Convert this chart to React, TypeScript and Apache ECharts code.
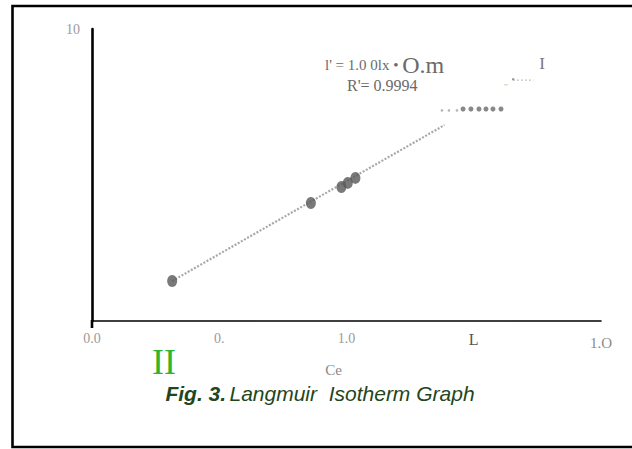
import React, { useEffect, useRef } from "react";
import * as echarts from "echarts";

const ceValues = [0.63, 1.72, 1.96, 2.01, 2.07];
const qeValues = [1.37, 4.04, 4.59, 4.73, 4.9];
const trendCe = [0.63, 2.77];
const trendQe = [1.37, 6.71];
const rowDarkCe = [2.916, 2.978, 3.041, 3.096, 3.151, 3.214];
const rowGrayCe = [2.75, 2.805, 2.868];
const rowQe = 7.26;
const tailCe = [3.31, 3.47];
const tailQe = 8.25;
const xTickLabels = ["0.0", "0.", "1.0", "L", "1.O"];
const yTickLabels: Record<number, string> = { 10: "10" };

const SERIF = "'Liberation Serif', 'DejaVu Serif', serif";
const SANS = "'Liberation Sans', Arial, sans-serif";

export default function App() {
  const ref = useRef<HTMLDivElement>(null);
  useEffect(() => {
    if (!ref.current) return;
    const chart = echarts.init(ref.current, null, { renderer: "svg" });
    chart.setOption({
      animation: false,
      backgroundColor: "#ffffff",
      grid: { left: 92, right: 31, top: 29, bottom: 128 },
      xAxis: {
        type: "value",
        min: 0,
        max: 4,
        interval: 1,
        name: "Ce",
        nameLocation: "middle",
        nameGap: 41,
        nameTextStyle: { fontFamily: SERIF, fontSize: 15, color: "#8a8a8a", padding: [0, 26, 0, 0] },
        axisLine: { lineStyle: { color: "#000", width: 1.6 } },
        axisTick: { show: false },
        splitLine: { show: false },
        axisLabel: {
          margin: 10,
          fontFamily: SERIF,
          fontSize: 14,
          color: "#9a9a9a",
          formatter: (v: number) => {
            const i = Math.round(v);
            if (i === 3) return "{d|" + xTickLabels[i] + "}";
            if (i === 4) return "{e|" + xTickLabels[i] + "}";
            return xTickLabels[i] ?? "";
          },
          rich: {
            d: { fontFamily: SERIF, fontSize: 16, color: "#555" },
            e: { fontFamily: SERIF, fontSize: 15, color: "#8a8a8a", padding: [4, 0, 0, 0] },
          },
        },
      },
      yAxis: {
        type: "value",
        min: 0,
        max: 10,
        interval: 10,
        axisLine: { show: true, lineStyle: { color: "#000", width: 2.6 } },
        axisTick: { show: false },
        splitLine: { show: false },
        axisLabel: {
          margin: 12,
          fontFamily: SERIF,
          fontSize: 14,
          color: "#9a9a9a",
          formatter: (v: number) => yTickLabels[v] ?? "",
        },
      },
      series: [
        {
          type: "line",
          data: trendCe.map((c, i) => [c, trendQe[i]]),
          symbol: "none",
          lineStyle: { color: "#a8a8a8", width: 2.2, type: [2, 1.6] },
          z: 2,
        },
        {
          type: "scatter",
          data: ceValues.map((c, i) => [c, qeValues[i]]),
          symbol: "circle",
          symbolSize: [10, 12],
          itemStyle: { color: "#575757" },
          z: 3,
        },
        {
          type: "scatter",
          data: rowDarkCe.map((c) => [c, rowQe]),
          symbol: "circle",
          symbolSize: 5,
          itemStyle: { color: "#6a6a6a" },
        },
        {
          type: "scatter",
          data: rowGrayCe.map((c) => [c, rowQe - 0.05]),
          symbol: "circle",
          symbolSize: 2.6,
          itemStyle: { color: "#a0a0a0" },
        },
        {
          type: "line",
          data: tailCe.map((c) => [c, tailQe]),
          symbol: "none",
          lineStyle: { color: "#b0b0b0", width: 1.2, type: [1.5, 2.5] },
        },
        {
          type: "scatter",
          data: [[tailCe[0], tailQe + 0.03]],
          symbol: "circle",
          symbolSize: 2.5,
          itemStyle: { color: "#777" },
        },
      ],
      graphic: [
        {
          type: "rect",
          shape: { x: 12.5, y: 6, width: 700, height: 441 },
          style: { fill: "none", stroke: "#000", lineWidth: 2.6 },
          silent: true,
        },
        {
          type: "line",
          shape: { x1: 92, y1: 320, x2: 92, y2: 328 },
          style: { stroke: "#000", lineWidth: 2.6 },
        },
        {
          type: "text",
          x: 325,
          y: 65,
          style: {
            text: "{a|l' = 1.0 0lx • }{b|O.m}",
            verticalAlign: "middle",
            align: "left",
            rich: {
              a: { fontFamily: SERIF, fontSize: 15, fill: "#6a6a6a" },
              b: { fontFamily: SERIF, fontSize: 24, fill: "#6a6a6a" },
            },
          },
        },
        {
          type: "text",
          x: 347,
          y: 85,
          style: {
            text: "R'= 0.9994",
            fontFamily: SERIF,
            fontSize: 16,
            fill: "#6a6a6a",
            verticalAlign: "middle",
            align: "left",
          },
        },
        {
          type: "text",
          x: 542,
          y: 63,
          style: { text: "I", fontFamily: SERIF, fontSize: 17, fill: "#777", align: "center", verticalAlign: "middle" },
        },
        {
          type: "text",
          x: 506,
          y: 82,
          style: { text: ",,", fontFamily: SERIF, fontSize: 8, fill: "#aaa", align: "center", verticalAlign: "middle" },
        },
        {
          type: "text",
          x: 164,
          y: 362,
          style: { text: "II", fontFamily: SERIF, fontSize: 36, fill: "#2fb52f", align: "center", verticalAlign: "middle" },
        },
        {
          type: "text",
          x: 320,
          y: 393,
          style: {
            text: "{b|Fig. 3.} {n|Langmuir  Isotherm Graph}",
            align: "center",
            verticalAlign: "middle",
            rich: {
              b: { fontFamily: SANS, fontSize: 21, fontWeight: "bold", fontStyle: "italic", fill: "#1f4620" },
              n: { fontFamily: SANS, fontSize: 21, fontStyle: "italic", fill: "#1f4620" },
            },
          },
        },
      ],
    });
    return () => chart.dispose();
  }, []);
  return (
    <div
      ref={ref}
      style={{ position: "fixed", left: 0, top: 0, width: 632, height: 449, background: "#fff" }}
    />
  );
}
